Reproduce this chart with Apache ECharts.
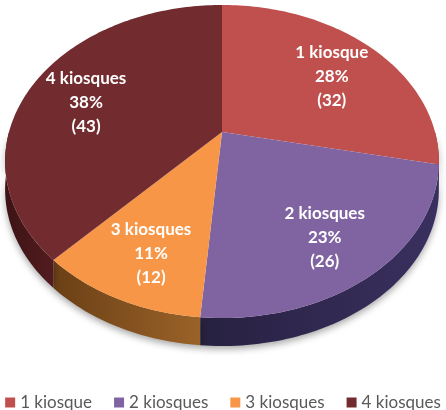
<!DOCTYPE html>
<html>
<head>
    <meta charset="utf-8">
    <script src="https://cdn.jsdelivr.net/npm/echarts@6/dist/echarts.min.js"></script>
</head>
<body style="margin:0;background:#fff">
    <div id="main" style="width: 446px;height:410px;"></div>
	<script type="text/javascript">
	var names = ['1 kiosque', '2 kiosques', '3 kiosques', '4 kiosques'];
	var values = [32, 26, 12, 43];
	var topColors = ['#C0504D', '#8064A2', '#F79646', '#722B2E'];
	var sideColors = [['#7a2f2d', '#5a1f1e'], ['#3a3060', '#272140'], ['#9a6228', '#6b4016'], ['#521c1f', '#3d1315']];

	// tilted pie projection
	var CX = 222, CY = 132, A = 151, B = 213, K = 0.1885, DEPTH = 28;
	var total = values.reduce(function (s, v) { return s + v; }, 0);
	var starts = [], acc = 0;
	values.forEach(function (v) { starts.push(acc / total * 2 * Math.PI); acc += v; });

	function proj(t, r, dy) {
		var X = r * Math.sin(t), Z = r * Math.cos(t);
		var f = 1 / (1 + K * Z);
		return [CX + B * X * f, CY - A * Z * f + (dy || 0)];
	}
	function arc(t0, t1, dy) {
		var pts = [], n = Math.max(2, Math.ceil((t1 - t0) / 0.02));
		for (var j = 0; j <= n; j++) pts.push(proj(t0 + (t1 - t0) * j / n, 1, dy));
		return pts;
	}

	function makeRender(i) {
		return function (params, api) {
			var v = api.value(0);
			var t0 = starts[i], t1 = t0 + v / total * 2 * Math.PI;
			var children = [];
			var s0 = Math.max(t0, Math.PI / 2), s1 = Math.min(t1, Math.PI * 1.5);
			if (s1 > s0) {
				var side = arc(s0, s1, 0).concat(arc(s0, s1, DEPTH).reverse());
				children.push({
					type: 'polygon', z2: 1,
					shape: { points: side },
					style: {
						fill: new echarts.graphic.LinearGradient(0, 0, 1, 0, [
							{ offset: 0, color: sideColors[i][1] },
							{ offset: 1, color: sideColors[i][0] }
						]),
						shadowBlur: 7, shadowColor: 'rgba(0,0,0,0.35)', shadowOffsetY: 3
					}
				});
			}
			children.push({
				type: 'polygon', z2: 5,
				shape: { points: [[CX, CY]].concat(arc(t0, t1, 0)) },
				style: { fill: topColors[i] }
			});
			var mid = (t0 + t1) / 2, p = proj(mid, 0.72, 8);
			children.push({
				type: 'text', z2: 10,
				x: p[0], y: p[1],
				style: {
					text: names[i] + '\n' + Math.round(v / total * 100) + '%\n(' + v + ')',
					fill: '#fff', align: 'center', verticalAlign: 'middle',
					font: 'bold 17px Lato', lineHeight: 24
				}
			});
			return { type: 'group', children: children };
		};
	}

	var series = names.map(function (n, i) {
		return {
			type: 'custom', name: n, coordinateSystem: 'none',
			itemStyle: { color: topColors[i] },
			data: [[values[i]]],
			renderItem: makeRender(i)
		};
	});

	myChart = echarts.init(document.getElementById('main'));
	myChart.setOption({
		animation: false,
		legend: {
			top: 389, left: 'center',
			icon: 'rect', itemWidth: 10, itemHeight: 10, itemGap: 22,
			textStyle: { color: '#595959', fontFamily: 'Lato', fontSize: 17 },
			data: names
		},
		series: series
	});
	</script>
</body>
</html>
